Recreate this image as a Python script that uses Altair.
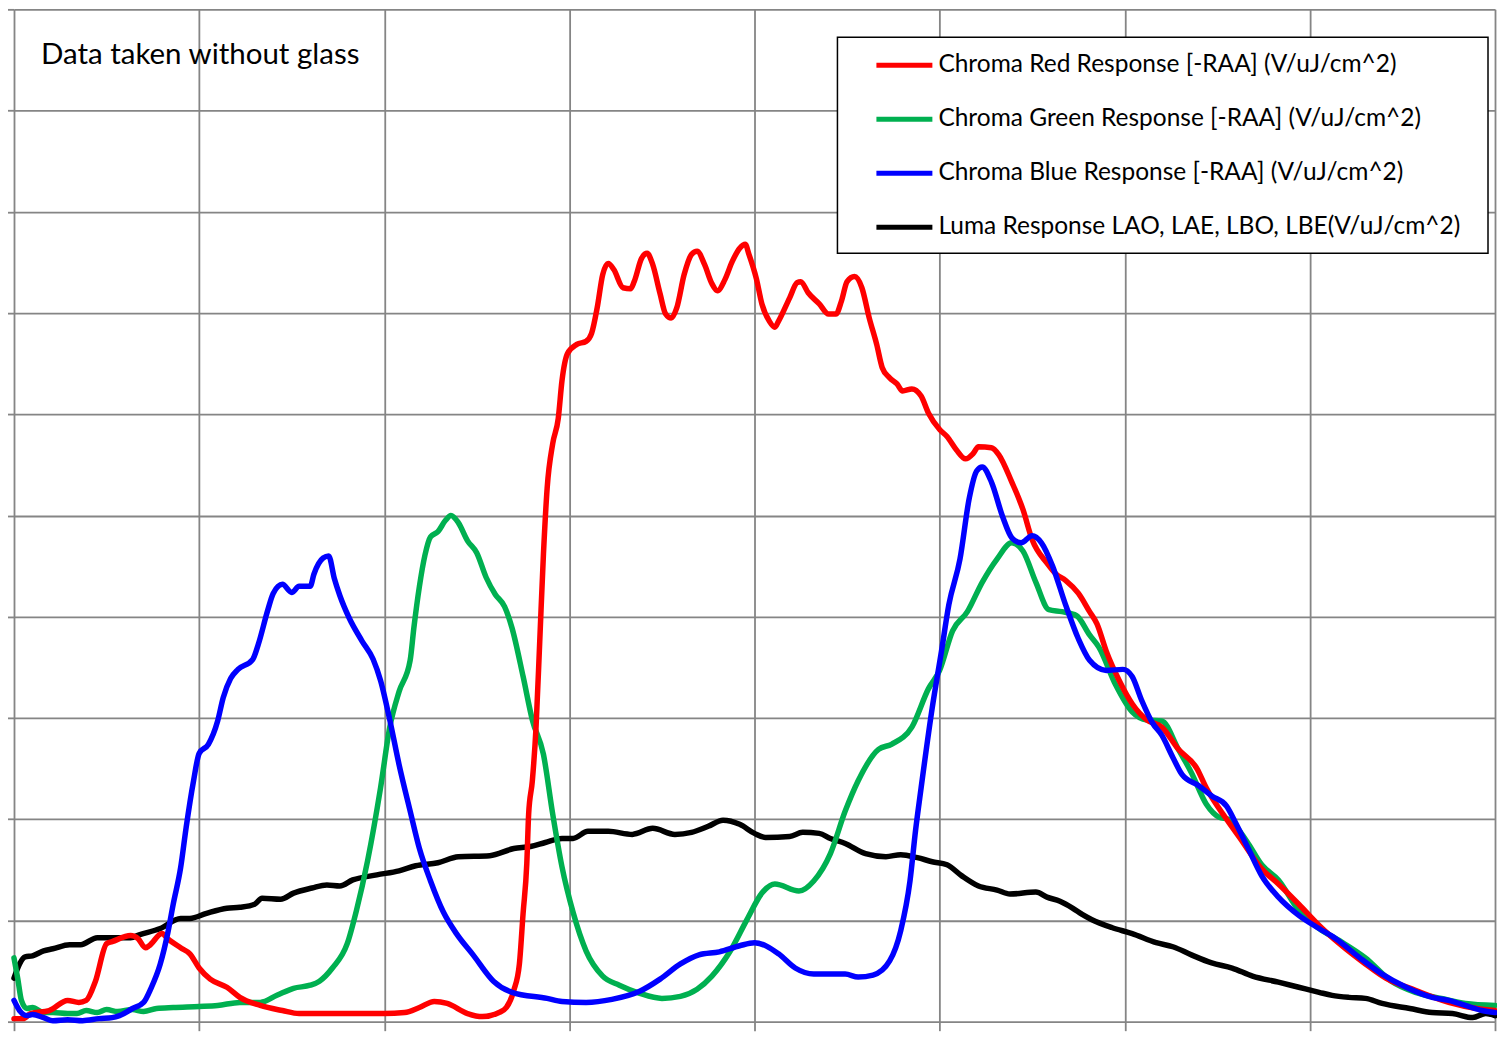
import altair as alt
import pandas as pd

SERIES = [
    "Chroma Red Response [-RAA] (V/uJ/cm^2)",
    "Chroma Green Response [-RAA] (V/uJ/cm^2)",
    "Chroma Blue Response [-RAA] (V/uJ/cm^2)",
    "Luma Response LAO, LAE, LBO, LBE(V/uJ/cm^2)",
]
COLORS = ["#FF0000", "#00B050", "#0000FF", "#000000"]
ANNOTATION = "Data taken without glass"

red = [(0, 0.03), (0.05, 0.03), (0.09, 0.08), (0.19, 0.11), (0.29, 0.21), (0.35, 0.19), (0.39, 0.21),
       (0.44, 0.40), (0.50, 0.77), (0.53, 0.79), (0.63, 0.85), (0.67, 0.82), (0.71, 0.73), (0.73, 0.75),
       (0.80, 0.87), (0.83, 0.82), (0.90, 0.73), (0.95, 0.67), (1.00, 0.53), (1.06, 0.42), (1.15, 0.34),
       (1.22, 0.24), (1.33, 0.16), (1.45, 0.11), (1.54, 0.08), (1.72, 0.08), (1.91, 0.08), (2.00, 0.08),
       (2.11, 0.09), (2.19, 0.14), (2.27, 0.20), (2.34, 0.18), (2.45, 0.08), (2.53, 0.05), (2.62, 0.09),
       (2.66, 0.14), (2.70, 0.31), (2.73, 0.57), (2.75, 1.07), (2.77, 1.56), (2.78, 2.05), (2.80, 2.38),
       (2.82, 2.91), (2.84, 3.76), (2.86, 4.62), (2.88, 5.27), (2.91, 5.71), (2.94, 5.96), (2.96, 6.33),
       (2.99, 6.60), (3.04, 6.69), (3.09, 6.72), (3.12, 6.80), (3.15, 7.05), (3.18, 7.38), (3.21, 7.49),
       (3.24, 7.43), (3.29, 7.25), (3.33, 7.24), (3.35, 7.31), (3.39, 7.54), (3.42, 7.59), (3.45, 7.48),
       (3.49, 7.19), (3.52, 6.99), (3.55, 6.95), (3.58, 7.05), (3.62, 7.38), (3.66, 7.58), (3.69, 7.61),
       (3.73, 7.48), (3.77, 7.29), (3.80, 7.22), (3.84, 7.33), (3.88, 7.51), (3.92, 7.64), (3.95, 7.68),
       (3.97, 7.58), (4.01, 7.34), (4.04, 7.09), (4.08, 6.92), (4.11, 6.86), (4.13, 6.92), (4.19, 7.15),
       (4.23, 7.30), (4.25, 7.31), (4.29, 7.20), (4.35, 7.09), (4.40, 6.99), (4.44, 6.99), (4.47, 7.12),
       (4.50, 7.31), (4.54, 7.36), (4.58, 7.25), (4.62, 6.95), (4.66, 6.69), (4.69, 6.46), (4.73, 6.36),
       (4.77, 6.30), (4.80, 6.23), (4.85, 6.25), (4.90, 6.18), (4.94, 6.01), (5.00, 5.85), (5.04, 5.78),
       (5.09, 5.65), (5.14, 5.56), (5.18, 5.61), (5.21, 5.68), (5.28, 5.67), (5.32, 5.60), (5.39, 5.33),
       (5.45, 5.06), (5.50, 4.76), (5.58, 4.53), (5.63, 4.42), (5.68, 4.36), (5.75, 4.23), (5.81, 4.05),
       (5.85, 3.93), (5.90, 3.66), (5.97, 3.37), (6.04, 3.14), (6.12, 2.98), (6.20, 2.91), (6.29, 2.69),
       (6.39, 2.50), (6.44, 2.31), (6.55, 2.00), (6.62, 1.82), (6.74, 1.51), (6.83, 1.36), (6.94, 1.16),
       (7.05, 0.95), (7.16, 0.77), (7.30, 0.57), (7.41, 0.43), (7.57, 0.31), (7.75, 0.19), (7.90, 0.13),
       (8.00, 0.11)]

green = [(0, 0.63), (0.02, 0.43), (0.04, 0.21), (0.07, 0.13), (0.10, 0.14), (0.16, 0.09), (0.21, 0.09),
         (0.29, 0.08), (0.34, 0.08), (0.39, 0.11), (0.45, 0.09), (0.50, 0.12), (0.56, 0.10), (0.64, 0.12),
         (0.70, 0.10), (0.77, 0.13), (0.86, 0.14), (1.00, 0.15), (1.10, 0.16), (1.22, 0.19), (1.33, 0.19),
         (1.42, 0.26), (1.51, 0.33), (1.60, 0.36), (1.65, 0.40), (1.72, 0.53), (1.80, 0.77), (1.85, 1.10),
         (1.91, 1.59), (1.98, 2.31), (2.03, 2.91), (2.08, 3.26), (2.14, 3.57), (2.16, 3.89), (2.19, 4.30),
         (2.22, 4.61), (2.25, 4.79), (2.29, 4.84), (2.33, 4.95), (2.36, 5.00), (2.40, 4.93), (2.45, 4.75),
         (2.50, 4.63), (2.55, 4.39), (2.60, 4.22), (2.65, 4.10), (2.69, 3.89), (2.75, 3.41), (2.80, 2.98),
         (2.86, 2.64), (2.91, 2.05), (2.96, 1.53), (3.02, 1.08), (3.09, 0.70), (3.18, 0.45), (3.27, 0.36),
         (3.38, 0.28), (3.50, 0.23), (3.60, 0.25), (3.69, 0.32), (3.77, 0.45), (3.87, 0.70), (3.96, 1.01),
         (4.04, 1.27), (4.11, 1.36), (4.24, 1.29), (4.32, 1.39), (4.41, 1.66), (4.49, 2.08), (4.56, 2.38),
         (4.67, 2.69), (4.74, 2.74), (4.85, 2.91), (4.94, 3.29), (5.00, 3.47), (5.07, 3.86), (5.15, 4.05),
         (5.23, 4.34), (5.31, 4.57), (5.39, 4.73), (5.45, 4.65), (5.52, 4.34), (5.59, 4.07), (5.66, 4.05),
         (5.74, 4.01), (5.81, 3.82), (5.86, 3.70), (5.95, 3.33), (6.04, 3.06), (6.12, 2.98), (6.20, 2.97),
         (6.29, 2.69), (6.36, 2.46), (6.44, 2.15), (6.51, 2.02), (6.56, 2.00), (6.66, 1.78), (6.74, 1.55),
         (6.83, 1.40), (6.94, 1.10), (7.05, 0.92), (7.16, 0.80), (7.30, 0.63), (7.44, 0.40), (7.57, 0.29),
         (7.71, 0.23), (7.84, 0.18), (8.00, 0.16)]

blue = [(0, 0.21), (0.03, 0.11), (0.07, 0.06), (0.10, 0.07), (0.16, 0.04), (0.21, 0.01), (0.29, 0.02),
        (0.37, 0.01), (0.46, 0.03), (0.53, 0.04), (0.57, 0.06), (0.64, 0.13), (0.70, 0.19), (0.74, 0.33),
        (0.79, 0.57), (0.83, 0.87), (0.86, 1.16), (0.90, 1.52), (0.93, 1.92), (0.97, 2.38), (1.00, 2.65),
        (1.05, 2.74), (1.10, 2.97), (1.13, 3.20), (1.17, 3.39), (1.21, 3.48), (1.29, 3.58), (1.32, 3.73),
        (1.37, 4.06), (1.40, 4.23), (1.45, 4.32), (1.50, 4.24), (1.54, 4.30), (1.60, 4.30), (1.62, 4.42),
        (1.67, 4.58), (1.70, 4.60), (1.73, 4.38), (1.76, 4.21), (1.81, 3.99), (1.88, 3.76), (1.94, 3.58),
        (1.98, 3.37), (2.03, 2.98), (2.08, 2.54), (2.14, 2.08), (2.19, 1.71), (2.25, 1.39), (2.32, 1.08),
        (2.39, 0.87), (2.48, 0.66), (2.59, 0.40), (2.69, 0.29), (2.88, 0.23), (2.96, 0.20), (3.09, 0.19),
        (3.23, 0.22), (3.38, 0.30), (3.49, 0.42), (3.60, 0.57), (3.70, 0.66), (3.81, 0.69), (3.92, 0.75),
        (4.00, 0.78), (4.13, 0.67), (4.22, 0.53), (4.32, 0.47), (4.41, 0.47), (4.49, 0.47), (4.56, 0.44),
        (4.64, 0.46), (4.73, 0.60), (4.79, 0.90), (4.84, 1.39), (4.87, 1.89), (4.90, 2.31), (4.96, 3.10),
        (5.01, 3.66), (5.05, 4.12), (5.11, 4.57), (5.16, 5.17), (5.20, 5.44), (5.23, 5.48), (5.28, 5.33),
        (5.34, 4.99), (5.39, 4.78), (5.44, 4.73), (5.50, 4.80), (5.55, 4.73), (5.61, 4.50), (5.68, 4.12),
        (5.75, 3.78), (5.81, 3.57), (5.90, 3.47), (5.99, 3.48), (6.04, 3.41), (6.09, 3.18), (6.15, 2.95),
        (6.20, 2.83), (6.26, 2.61), (6.31, 2.44), (6.40, 2.33), (6.47, 2.23), (6.55, 2.13), (6.60, 1.96),
        (6.67, 1.70), (6.74, 1.44), (6.83, 1.23), (6.94, 1.05), (7.05, 0.92), (7.14, 0.82), (7.27, 0.63),
        (7.39, 0.47), (7.52, 0.34), (7.66, 0.24), (7.75, 0.21), (7.84, 0.16), (7.93, 0.11), (8.00, 0.09)]

luma = [(0, 0.43), (0.03, 0.57), (0.06, 0.64), (0.10, 0.65), (0.16, 0.70), (0.21, 0.72), (0.30, 0.76),
        (0.36, 0.76), (0.45, 0.83), (0.52, 0.83), (0.63, 0.83), (0.68, 0.86), (0.79, 0.92), (0.90, 1.02),
        (0.95, 1.02), (1.04, 1.07), (1.15, 1.12), (1.22, 1.13), (1.30, 1.16), (1.34, 1.22), (1.44, 1.21),
        (1.51, 1.27), (1.61, 1.32), (1.69, 1.35), (1.76, 1.34), (1.83, 1.40), (1.96, 1.45), (2.08, 1.49),
        (2.17, 1.54), (2.29, 1.57), (2.40, 1.63), (2.57, 1.64), (2.70, 1.71), (2.79, 1.73), (2.87, 1.77),
        (2.96, 1.81), (3.02, 1.81), (3.10, 1.88), (3.21, 1.88), (3.34, 1.85), (3.45, 1.91), (3.57, 1.85),
        (3.66, 1.87), (3.75, 1.93), (3.83, 1.99), (3.92, 1.95), (4.00, 1.86), (4.06, 1.82), (4.19, 1.83),
        (4.26, 1.87), (4.35, 1.86), (4.41, 1.81), (4.49, 1.76), (4.60, 1.66), (4.71, 1.63), (4.79, 1.65),
        (4.88, 1.62), (4.96, 1.58), (5.04, 1.55), (5.12, 1.44), (5.21, 1.34), (5.31, 1.30), (5.38, 1.26),
        (5.52, 1.28), (5.58, 1.23), (5.65, 1.19), (5.72, 1.12), (5.77, 1.06), (5.82, 1.01), (5.93, 0.93),
        (6.04, 0.87), (6.17, 0.78), (6.26, 0.74), (6.36, 0.66), (6.47, 0.58), (6.58, 0.53), (6.69, 0.45),
        (6.83, 0.39), (6.94, 0.34), (7.05, 0.29), (7.12, 0.26), (7.21, 0.24), (7.30, 0.23), (7.39, 0.18),
        (7.54, 0.13), (7.66, 0.09), (7.77, 0.08), (7.88, 0.04), (7.95, 0.08), (8.00, 0.06)]

GRID = "#858585"
FONT = "Lato"

rows = []
for name, pts in zip(SERIES, [red, green, blue, luma]):
    for x, y in pts:
        rows.append({"series": name, "x": x, "y": y})
df = pd.DataFrame(rows)

xscale = alt.Scale(domain=[0, 8], nice=False, zero=False)
yscale = alt.Scale(domain=[0, 10], nice=False, zero=False)
color_scale = alt.Scale(domain=SERIES, range=COLORS)

xaxis = alt.Axis(labels=False, title=None, values=list(range(0, 9)), tickSize=9, tickColor=GRID,
                 tickWidth=1.8, grid=True, gridColor=GRID, gridWidth=1.8, gridOpacity=1, domain=False)
yaxis = alt.Axis(labels=False, title=None, values=list(range(0, 11)), tickSize=9, tickColor=GRID,
                 tickWidth=1.8, grid=True, gridColor=GRID, gridWidth=1.8, gridOpacity=1, domain=False)

legend = alt.Legend(
    title=None, orient="none", legendX=862.5, legendY=39.5,
    symbolType="M-2,0H2", symbolSize=784, symbolStrokeWidth=5, symbolOffset=12,
    labelOffset=17.5, labelFont=FONT, labelFontSize=24.5, labelColor="#000000",
    rowPadding=26, padding=0, labelLimit=1000,
)

box = alt.Chart(pd.DataFrame({"k": [0]})).mark_rect(
    fill="white", stroke="black", strokeWidth=1.5
).encode(x=alt.value(824), x2=alt.value(1475), y=alt.value(28), y2=alt.value(244))


def line_layer(name):
    base = alt.Chart(df).transform_filter(alt.datum.series == name).mark_line(
        strokeWidth=5.5, interpolate="monotone", strokeCap="round", strokeJoin="round"
    )
    return base.encode(
        x=alt.X("x:Q", scale=xscale, axis=xaxis),
        y=alt.Y("y:Q", scale=yscale, axis=yaxis),
        color=alt.Color("series:N", scale=color_scale, legend=legend),
    )


layers = [line_layer(SERIES[3]), line_layer(SERIES[1]),
          line_layer(SERIES[0]), line_layer(SERIES[2])]

note = alt.Chart(pd.DataFrame({"t": [ANNOTATION]})).mark_text(
    align="left", baseline="alphabetic", font=FONT, fontSize=29.5, color="#000000"
).encode(x=alt.value(27), y=alt.value(55), text="t:N")

chart = alt.layer(*layers, box, note).properties(
    width=1482, height=1013,
    autosize=alt.AutoSizeParams(type="none"),
    padding={"left": 6, "top": 1, "right": 2, "bottom": 12},
    background="white",
).configure_view(stroke=None)

chart.save("out.html", embed_options={"renderer": "svg", "actions": False})
